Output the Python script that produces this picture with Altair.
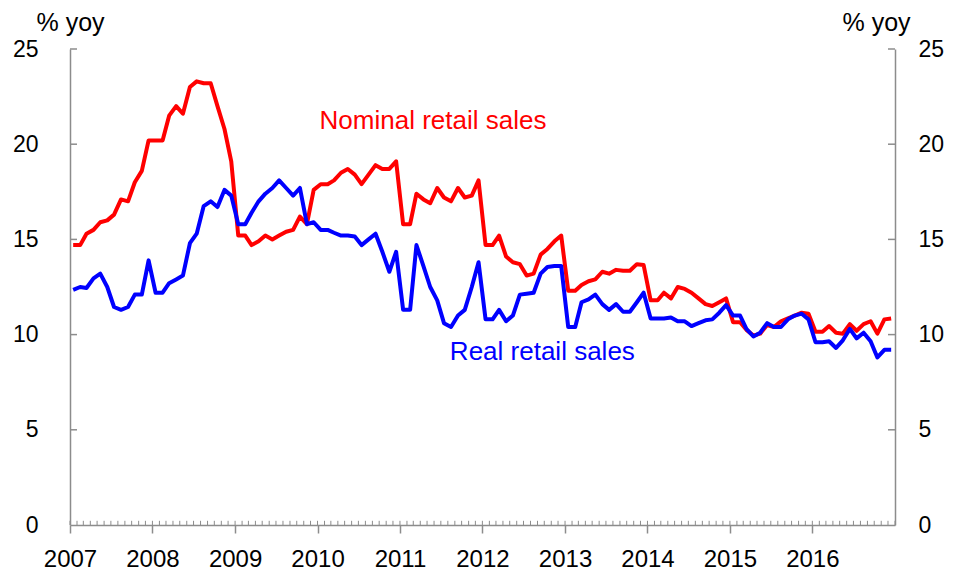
import altair as alt
import pandas as pd

# ---- data ----
years = list(range(2007, 2017))

nominal = [
    # 2007
    14.7, 14.7, 15.3, 15.5, 15.9, 16.0, 16.3, 17.1, 17.0, 18.0, 18.6, 20.2,
    # 2008
    20.2, 20.2, 21.5, 22.0, 21.6, 23.0, 23.3, 23.2, 23.2, 22.0, 20.8, 19.1,
    # 2009
    15.2, 15.2, 14.7, 14.9, 15.2, 15.0, 15.2, 15.4, 15.5, 16.2, 15.8, 17.6,
    # 2010
    17.9, 17.9, 18.1, 18.5, 18.7, 18.4, 17.9, 18.4, 18.9, 18.7, 18.7, 19.1,
    # 2011
    15.8, 15.8, 17.4, 17.1, 16.9, 17.7, 17.2, 17.0, 17.7, 17.2, 17.3, 18.1,
    # 2012
    14.7, 14.7, 15.2, 14.1, 13.8, 13.7, 13.1, 13.2, 14.2, 14.5, 14.9, 15.2,
    # 2013
    12.3, 12.3, 12.6, 12.8, 12.9, 13.3, 13.2, 13.4, 13.35, 13.35, 13.7, 13.65,
    # 2014
    11.8, 11.8, 12.2, 11.9, 12.5, 12.4, 12.2, 11.9, 11.6, 11.5, 11.7, 11.9,
    # 2015
    10.65, 10.65, 10.25, 9.95, 10.05, 10.5, 10.4, 10.7, 10.85, 11.0, 11.15, 11.1,
    # 2016
    10.15, 10.15, 10.45, 10.1, 10.05, 10.55, 10.2, 10.55, 10.7, 10.05, 10.8, 10.85,
]

real = [
    # 2007
    12.35, 12.5, 12.45, 12.95, 13.2, 12.5, 11.45, 11.3, 11.45, 12.1, 12.1, 13.9,
    # 2008
    12.2, 12.2, 12.7, 12.9, 13.1, 14.8, 15.3, 16.75, 17.0, 16.7, 17.6, 17.3,
    # 2009
    15.8, 15.8, 16.4, 17.0, 17.4, 17.7, 18.1, 17.7, 17.3, 17.7, 15.8, 15.9,
    # 2010
    15.5, 15.5, 15.35, 15.2, 15.2, 15.15, 14.7, 15.0, 15.3, 14.35, 13.3, 14.35,
    # 2011
    11.3, 11.3, 14.7, 13.6, 12.5, 11.8, 10.6, 10.4, 11.0, 11.3, 12.5, 13.8,
    # 2012
    10.8, 10.8, 11.3, 10.7, 11.0, 12.1, 12.15, 12.2, 13.2, 13.55, 13.6, 13.6,
    # 2013
    10.4, 10.4, 11.7, 11.85, 12.1, 11.6, 11.3, 11.6, 11.2, 11.2, 11.7, 12.2,
    # 2014
    10.85, 10.85, 10.85, 10.9, 10.7, 10.7, 10.45, 10.6, 10.75, 10.8, 11.15, 11.55,
    # 2015
    11.0, 11.0, 10.3, 9.9, 10.1, 10.6, 10.4, 10.4, 10.8, 11.0, 11.1, 10.8,
    # 2016
    9.6, 9.6, 9.65, 9.3, 9.7, 10.3, 9.8, 10.1, 9.65, 8.8, 9.2, 9.2,
]

y_ticks = [0, 5, 10, 15, 20, 25]
labels_text = ["Nominal retail sales", "Real retail sales"]
labels_color = ["#FF0000", "#0000FF"]
labels_date = ["2010-01-10", "2011-08-10"]
labels_value = [21.2, 9.1]

# ---- tables ----
dates = pd.date_range("2007-01-01", periods=len(nominal), freq="MS") + pd.Timedelta(days=14)
df = pd.DataFrame({"date": dates, "nominal": nominal, "real": real})
minor = pd.DataFrame({"date": pd.date_range("2007-01-01", "2017-01-01", freq="MS")})
ytk = pd.DataFrame({"v": y_ticks[1:]})
lab = pd.DataFrame({"text": labels_text, "color": labels_color,
                    "date": pd.to_datetime(labels_date), "v": labels_value})

FONT = "Liberation Sans"
GRAY = "#8c8c8c"
W, H = 825, 476

xdom = [alt.DateTime(year=2007, month=1, date=1), alt.DateTime(year=2017, month=1, date=1)]
xscale = alt.Scale(domain=xdom)
yscale = alt.Scale(domain=[0, 25], nice=False, zero=True)

x_axis = alt.Axis(
    values=[alt.DateTime(year=y, month=1, date=1) for y in years],
    format="%Y", labelFontSize=24, labelFont=FONT, labelColor="black",
    tickSize=8, tickColor=GRAY, tickWidth=1.5, domainColor=GRAY, domainWidth=1.5,
    labelPadding=14, grid=False, title=None, labelFlush=False, labelOverlap=False,
)

left_axis = alt.Axis(
    orient="left", values=y_ticks, ticks=False, tickSize=0, grid=False,
    domainColor=GRAY, domainWidth=1.5, labelFontSize=23, labelFont=FONT,
    labelColor="black", labelPadding=32,
    title="% yoy", titleAngle=0, titleX=0, titleY=-19, titleAlign="center",
    titleBaseline="alphabetic", titleFontSize=25, titleFont=FONT,
    titleFontWeight="normal", titleColor="black",
)
right_axis = alt.Axis(
    orient="right", values=y_ticks, ticks=False, tickSize=0, grid=False,
    domainColor=GRAY, domainWidth=1.5, labelFontSize=23, labelFont=FONT,
    labelColor="black", labelPadding=23,
    title="% yoy", titleAngle=0, titleX=-19, titleY=-19, titleAlign="center",
    titleBaseline="alphabetic", titleFontSize=25, titleFont=FONT,
    titleFontWeight="normal", titleColor="black",
)

X = alt.X("date:T", scale=xscale, axis=x_axis)

base = alt.Chart(df)

minor_ticks = alt.Chart(minor).mark_rule(color=GRAY, strokeWidth=1).encode(
    x=X,
    y=alt.datum(0, scale=yscale, axis=None),
    y2=alt.datum(0.22),
)

left_ticks = alt.Chart(ytk).mark_rule(color=GRAY, strokeWidth=1.5).encode(
    x=alt.value(0), x2=alt.value(7),
    y=alt.Y("v:Q", scale=yscale, axis=None),
)
right_ticks = alt.Chart(ytk).mark_rule(color=GRAY, strokeWidth=1.5).encode(
    x=alt.value(W - 7), x2=alt.value(W),
    y=alt.Y("v:Q", scale=yscale, axis=None),
)

red = base.mark_line(color="#FF0000", strokeWidth=4, strokeJoin="round").encode(
    x=X,
    y=alt.Y("nominal:Q", scale=yscale, axis=left_axis),
)
blue = base.mark_line(color="#0000FF", strokeWidth=4, strokeJoin="round").encode(
    x=X,
    y=alt.Y("real:Q", scale=yscale, axis=right_axis),
)

texts = alt.Chart(lab).mark_text(
    align="left", baseline="middle", fontSize=26, font=FONT
).encode(
    x=X,
    y=alt.Y("v:Q", scale=yscale, axis=None),
    text="text:N",
    color=alt.Color("color:N", scale=None),
)

chart = (
    alt.layer(minor_ticks, left_ticks, right_ticks, red, blue, texts)
    .resolve_axis(y="independent")
    .properties(
        width=W, height=H,
        autosize=alt.AutoSizeParams(type="none"),
        padding={"left": 62, "top": 41, "right": 50, "bottom": 50},
        background="white",
    )
    .configure_view(stroke=None)
)

chart.save("out.html", embed_options={"renderer": "svg", "actions": False})
